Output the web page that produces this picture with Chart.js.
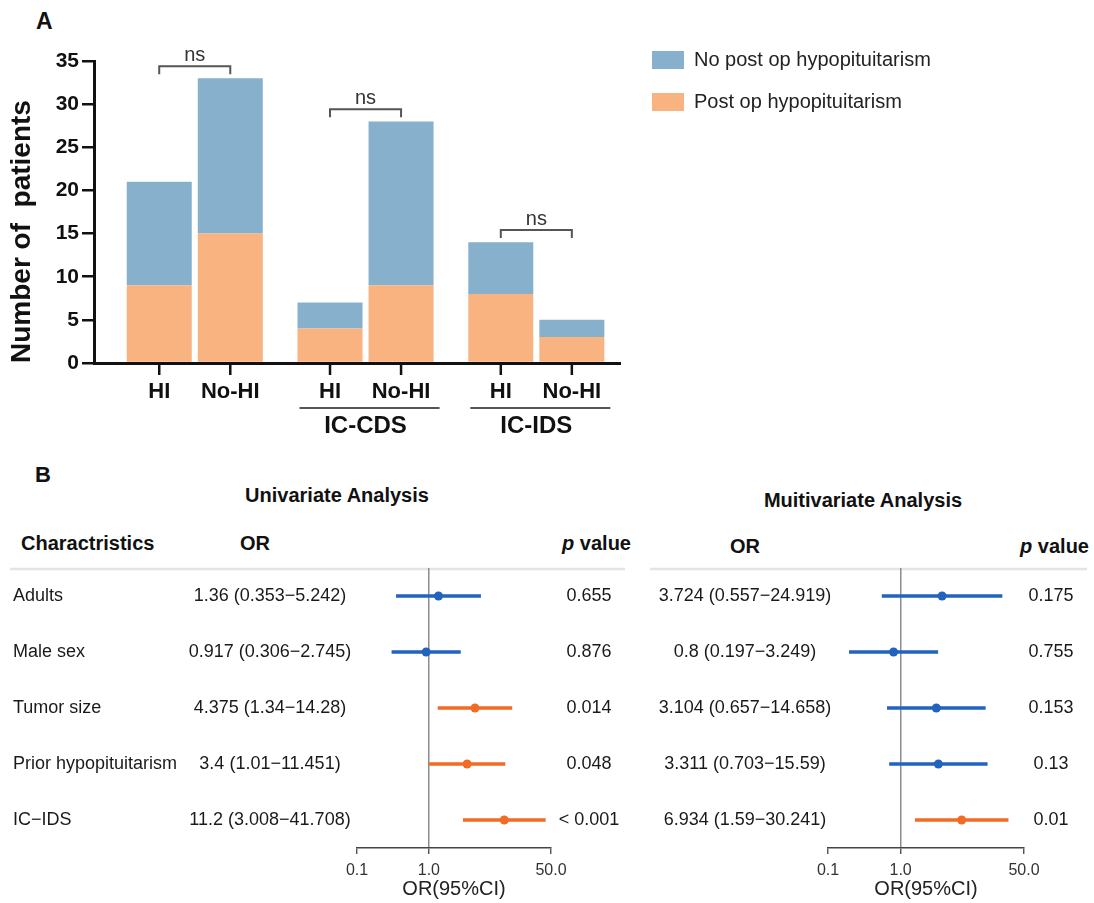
<!DOCTYPE html>
<html>
<head>
<meta charset="utf-8">
<script src="https://cdn.jsdelivr.net/npm/chart.js@4.4.1/dist/chart.umd.min.js"></script>
<style>
html,body{margin:0;padding:0;background:#fff;}
body{width:1094px;height:903px;position:relative;overflow:hidden;font-family:"Liberation Sans",Arial,sans-serif;color:#111;}
.t{position:absolute;white-space:nowrap;line-height:1;}
.c{transform:translate(-50%,-50%);}
.l{transform:translate(0,-50%);}
.r{transform:translate(-100%,-50%);}
.b{font-weight:bold;}
canvas{position:absolute;}
</style>
</head>
<body>
<div class="t l b" style="left:36px;top:21px;font-size:23px;">A</div>
<div class="t l b" style="left:35px;top:475px;font-size:22px;">B</div>
<div class="t c b" style="left:337px;top:495px;font-size:20px;">Univariate Analysis</div>
<div class="t c b" style="left:863px;top:500px;font-size:20px;">Muitivariate Analysis</div>
<div class="t l b" style="left:21px;top:543px;font-size:20px;">Charactristics</div>
<div class="t c b" style="left:255px;top:543px;font-size:20px;">OR</div>
<div class="t r b" style="left:631px;top:543px;font-size:20px;"><i>p</i> value</div>
<div class="t c b" style="left:745px;top:546px;font-size:20px;">OR</div>
<div class="t r b" style="left:1089px;top:546px;font-size:20px;"><i>p</i> value</div>

<canvas id="cA" width="1000" height="450" style="left:0;top:0;"></canvas>
<canvas id="cU" width="640" height="443" style="left:0;top:460px;"></canvas>
<canvas id="cM" width="454" height="443" style="left:640px;top:460px;"></canvas>

<script>
// ---------- Panel A data ----------
const groups = ['', 'IC-CDS', 'IC-IDS'];
const subgroups = ['HI', 'No-HI'];
const hiPost = [9, 4, 8];
const hiNoPost = [12, 3, 6];
const noHiPost = [15, 9, 3];
const noHiNoPost = [18, 19, 2];
const sigLabels = ['ns', 'ns', 'ns'];
const sigLevel = [34.4, 29.4, 15.4];
const seriesNames = ['Post op hypopituitarism', 'No post op hypopituitarism'];

// ---------- Panel B data ----------
const characteristics = ['Adults', 'Male sex', 'Tumor size', 'Prior hypopituitarism', 'IC\u2212IDS'];
const uniOR = [1.36, 0.917, 4.375, 3.4, 11.2];
const uniLow = [0.353, 0.306, 1.34, 1.01, 3.008];
const uniHigh = [5.242, 2.745, 14.28, 11.451, 41.708];
const uniP = ['0.655', '0.876', '0.014', '0.048', '< 0.001'];
const multiOR = [3.724, 0.8, 3.104, 3.311, 6.934];
const multiLow = [0.557, 0.197, 0.657, 0.703, 1.59];
const multiHigh = [24.919, 3.249, 14.658, 15.59, 30.241];
const multiP = ['0.175', '0.755', '0.153', '0.13', '0.01'];
const orTicks = [0.1, 1, 50];
const orTickLabels = ['0.1', '1.0', '50.0'];

const FONT = '"Liberation Sans", Arial, sans-serif';
Chart.defaults.font.family = FONT;
const BLUE = '#87B0CC';
const ORANGE = '#F8B381';
const FBLUE = '#2262C0';
const FORANGE = '#F26B25';

// ---------- Panel A ----------
const pts = arr => arr.map((v, i) => ({x: i, y: v}));

const annotA = {
  id: 'annotA',
  afterDraw(chart) {
    const ctx = chart.ctx;
    const yS = chart.scales.y;
    const bottom = chart.chartArea.bottom;
    const mH = chart.getDatasetMeta(1), mN = chart.getDatasetMeta(3);
    ctx.save();
    groups.forEach((g, i) => {
      const bh = mH.data[i], bn = mN.data[i];
      [bh, bn].forEach((b, k) => {
        ctx.strokeStyle = '#111'; ctx.lineWidth = 2.5;
        ctx.beginPath(); ctx.moveTo(b.x, bottom); ctx.lineTo(b.x, bottom + 12); ctx.stroke();
        ctx.fillStyle = '#111'; ctx.font = 'bold 22px ' + FONT;
        ctx.textAlign = 'center'; ctx.textBaseline = 'middle';
        ctx.fillText(subgroups[k], b.x, bottom + 29);
      });
      if (g) {
        const x1 = bh.x - bh.width / 2 + 2, x2 = bn.x + bn.width / 2 + 6;
        ctx.strokeStyle = '#555'; ctx.lineWidth = 2;
        ctx.beginPath(); ctx.moveTo(x1, bottom + 45); ctx.lineTo(x2, bottom + 45); ctx.stroke();
        ctx.fillStyle = '#111'; ctx.font = 'bold 24px ' + FONT;
        ctx.fillText(g, (bh.x + bn.x) / 2, bottom + 63);
      }
      const yb = yS.getPixelForValue(sigLevel[i]);
      ctx.strokeStyle = '#555'; ctx.lineWidth = 2;
      ctx.beginPath();
      ctx.moveTo(bh.x, yb + 8); ctx.lineTo(bh.x, yb); ctx.lineTo(bn.x, yb); ctx.lineTo(bn.x, yb + 8);
      ctx.stroke();
      ctx.fillStyle = '#333'; ctx.font = '20px ' + FONT;
      ctx.textAlign = 'center'; ctx.textBaseline = 'middle';
      ctx.fillText(sigLabels[i], (bh.x + bn.x) / 2, yb - 11);
    });
    ctx.restore();
  }
};

const chartA = new Chart(document.getElementById('cA'), {
  type: 'bar',
  data: {
    datasets: [
      {label: seriesNames[0], data: pts(hiPost), stack: 'HI', backgroundColor: ORANGE},
      {label: seriesNames[1], data: pts(hiNoPost), stack: 'HI', backgroundColor: BLUE},
      {label: seriesNames[0], data: pts(noHiPost), stack: 'NoHI', backgroundColor: ORANGE},
      {label: seriesNames[1], data: pts(noHiNoPost), stack: 'NoHI', backgroundColor: BLUE}
    ]
  },
  options: {
    responsive: false,
    animation: false,
    categoryPercentage: 0.832,
    barPercentage: 0.915,
    layout: {padding: {top: 28, left: 0, right: 0, bottom: 0}},
    plugins: {
      tooltip: {enabled: false},
      title: {display: true, text: '', padding: {top: 0, bottom: 21}, font: {size: 10}},
      legend: {
        position: 'right', align: 'start', reverse: true, maxWidth: 420,
        labels: {
          filter: item => item.datasetIndex < 2,
          boxWidth: 32, boxHeight: 18, padding: 22,
          font: {size: 20}, color: '#222'
        }
      }
    },
    scales: {
      x: {
        type: 'linear', min: -0.59, max: 2.49, offset: false,
        afterBuildTicks: s => { s.ticks = groups.map((g, i) => ({value: i})); },
        ticks: {display: false},
        grid: {display: false, offset: false},
        border: {display: true, color: '#111', width: 3},
        afterFit: s => { s.height = 87; }
      },
      y: {
        stacked: true, min: 0, max: 35,
        ticks: {stepSize: 5, color: '#111', font: {size: 21, weight: 'bold'}, padding: 3},
        grid: {drawOnChartArea: false, drawTicks: true, tickLength: 12, color: '#111', lineWidth: 2.5},
        border: {display: true, color: '#111', width: 3},
        title: {display: true, text: 'Number of  patients', align: 'start', color: '#111',
                font: {size: 28, weight: 'bold'}, padding: {top: 5, bottom: 0}},
        afterFit: s => { s.width = 94; }
      },
      y2: {
        position: 'right', display: true,
        ticks: {display: false}, grid: {display: false}, border: {display: false},
        afterFit: s => { s.width = 10; }
      }
    }
  },
  plugins: [annotA]
});
for (let k = 0; k < 3; k++) {
  const d = chartA.chartArea.right - 620;
  if (Math.abs(d) < 0.5) break;
  chartA.options.layout.padding.right += d;
  chartA.update('none');
}

// ---------- Panel B ----------
function makeForest(id, cfg) {
  const colors = cfg.p.map(s => parseFloat(s.replace('<', '')) < 0.05 ? FORANGE : FBLUE);
  const table = {
    id: 'table_' + id,
    beforeDraw(chart) {
      const ctx = chart.ctx;
      ctx.save();
      ctx.strokeStyle = '#e4e4e4'; ctx.lineWidth = 2.5;
      ctx.beginPath(); ctx.moveTo(cfg.sep[0], 109); ctx.lineTo(cfg.sep[1], 109); ctx.stroke();
      ctx.restore();
    },
    afterDraw(chart) {
      const ctx = chart.ctx, yS = chart.scales.y;
      ctx.save();
      ctx.font = '18px ' + FONT; ctx.fillStyle = '#1a1a1a'; ctx.textBaseline = 'middle';
      characteristics.forEach((c, i) => {
        const y = yS.getPixelForValue(i);
        if (cfg.showChar) { ctx.textAlign = 'left'; ctx.fillText(c, 13, y); }
        ctx.textAlign = 'center';
        ctx.fillText(cfg.or[i] + ' (' + cfg.low[i] + '\u2212' + cfg.high[i] + ')', cfg.orX, y);
        ctx.fillText(cfg.p[i], cfg.pX, y);
      });
      ctx.restore();
    }
  };
  return new Chart(document.getElementById(id), {
    type: 'bar',
    data: {
      labels: characteristics,
      datasets: [
        {type: 'bar', data: cfg.low.map((l, i) => [l, cfg.high[i]]), backgroundColor: colors,
         barThickness: 3, order: 2},
        {type: 'scatter', data: cfg.or.map((v, i) => ({x: v, y: characteristics[i]})),
         backgroundColor: colors, borderWidth: 0, pointRadius: 4.5, indexAxis: 'y', order: 1}
      ]
    },
    options: {
      indexAxis: 'y', responsive: false, animation: false,
      layout: {padding: cfg.pad},
      plugins: {legend: {display: false}, tooltip: {enabled: false}},
      scales: {
        x: {
          type: 'logarithmic', min: orTicks[0], max: orTicks[orTicks.length - 1],
          afterBuildTicks: s => { s.ticks = orTicks.map(v => ({value: v})); },
          ticks: {callback: (v, i) => orTickLabels[i], autoSkip: false, maxRotation: 0,
                  color: '#333', font: {size: 16}, padding: 7},
          grid: {color: c => (c.tick && c.tick.value === 1) ? '#8c8c8c' : 'rgba(0,0,0,0)',
                 lineWidth: 1.5, drawTicks: true, tickLength: 6, tickColor: '#444', tickWidth: 1.3},
          border: {display: true, color: '#444', width: 1.5},
          title: {display: true, text: 'OR(95%CI)', color: '#222', font: {size: 20},
                  padding: {top: 0, bottom: 2}},
          afterFit: s => { s.height = 55; }
        },
        y: {type: 'category', display: false, offset: true}
      }
    },
    plugins: [table]
  });
}

makeForest('cU', {or: uniOR, low: uniLow, high: uniHigh, p: uniP, showChar: true,
  orX: 270, pX: 589, sep: [10, 625], pad: {left: 357, right: 89, top: 108, bottom: 0}});
makeForest('cM', {or: multiOR, low: multiLow, high: multiHigh, p: multiP, showChar: false,
  orX: 105, pX: 411, sep: [10, 447], pad: {left: 188, right: 70, top: 108, bottom: 0}});
</script>
</body>
</html>
